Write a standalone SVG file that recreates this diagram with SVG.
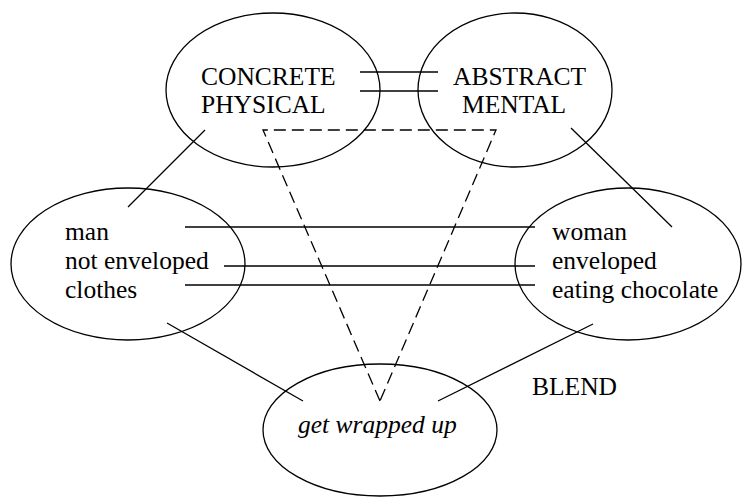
<svg xmlns="http://www.w3.org/2000/svg" width="742" height="497" viewBox="0 0 742 497" font-family="'Liberation Serif', 'Times New Roman', Times, serif" font-size="25.5">
  <style>
    .shape { fill: none; stroke: #000; stroke-width: 1.3; }
    .link { fill: none; stroke: #000; stroke-width: 1.3; }
    .dash { fill: none; stroke: #000; stroke-width: 1.3; stroke-dasharray: 12 6; }
    .lbl { fill: #000; }
    .it { font-style: italic; }
  </style>
  <rect width="742" height="497" fill="#fff"/>

  <g id="connectors">
    <!-- cross-space mappings between the top inputs -->
    <line class="link" x1="360" y1="72" x2="438" y2="72"/>
    <line class="link" x1="360" y1="91" x2="438" y2="91"/>
    <!-- generic space to input spaces -->
    <line class="link" x1="205" y1="130" x2="128" y2="207"/>
    <line class="link" x1="571" y1="128" x2="672" y2="227"/>
    <!-- mappings between the middle inputs -->
    <line class="link" x1="185" y1="227" x2="535" y2="227"/>
    <line class="link" x1="224" y1="266" x2="535" y2="266"/>
    <line class="link" x1="185" y1="285" x2="535" y2="285"/>
    <!-- projections into the blend -->
    <line class="link" x1="167" y1="323" x2="303" y2="401"/>
    <line class="link" x1="593" y1="324" x2="438" y2="401"/>
    <!-- dashed emergent-structure triangle -->
    <polyline class="dash" points="380,401 263,130 496,130 380,401"/>
  </g>

  <g id="concrete">
    <ellipse class="shape" cx="273" cy="90" rx="107" ry="77"/>
    <text class="lbl" x="201" y="85">CONCRETE</text>
    <text class="lbl" x="201" y="113">PHYSICAL</text>
  </g>

  <g id="abstract">
    <ellipse class="shape" cx="515" cy="90" rx="97" ry="77"/>
    <text class="lbl" x="453" y="85">ABSTRACT</text>
    <text class="lbl" x="462" y="113">MENTAL</text>
  </g>

  <g id="man">
    <ellipse class="shape" cx="128" cy="264" rx="117" ry="76"/>
    <text class="lbl" x="65" y="240">man</text>
    <text class="lbl" x="65" y="269">not enveloped</text>
    <text class="lbl" x="65" y="298">clothes</text>
  </g>

  <g id="woman">
    <ellipse class="shape" cx="628" cy="264" rx="113" ry="76"/>
    <text class="lbl" x="552" y="240">woman</text>
    <text class="lbl" x="552" y="269">enveloped</text>
    <text class="lbl" x="552" y="298">eating chocolate</text>
  </g>

  <g id="blend">
    <ellipse class="shape" cx="380" cy="430" rx="117" ry="66"/>
    <text class="lbl it" x="298" y="433">get wrapped up</text>
    <text class="lbl" x="532" y="395">BLEND</text>
  </g>
</svg>
